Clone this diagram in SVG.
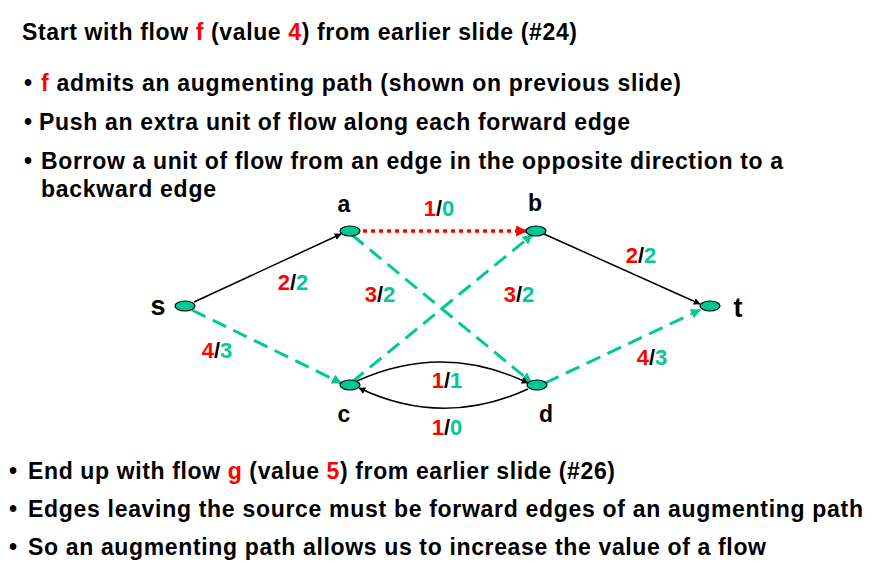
<svg xmlns="http://www.w3.org/2000/svg" width="880" height="563" viewBox="0 0 880 563">
<style>
text{font-family:"Liberation Sans",Arial,sans-serif;font-weight:bold;fill:#000}
.t{font-size:23px}
.lbl{font-size:22px;text-anchor:middle}
.nl{font-size:23px;text-anchor:middle}
.r{fill:#FF0000}
.g{fill:#00C896}
.node{fill:#00C896;stroke:#000;stroke-width:1.2}
.blk{stroke:#000;stroke-width:1.5;fill:none}
.grn{stroke:#00C896;stroke-width:3;fill:none;stroke-dasharray:15 8}
.red{stroke:#FF0000;stroke-width:3.5;fill:none;stroke-dasharray:4 4}
</style>
<defs>
<marker id="ab" viewBox="0 0 10 10" refX="9" refY="5" markerWidth="7" markerHeight="7" markerUnits="userSpaceOnUse" orient="auto"><path d="M0,0L10,5L0,10z" fill="#000"/></marker>
<marker id="ag" viewBox="0 0 10 10" refX="9" refY="5" markerWidth="10" markerHeight="10" markerUnits="userSpaceOnUse" orient="auto"><path d="M0,0L10,5L0,10z" fill="#00C896"/></marker>
<marker id="ar" viewBox="0 0 10 10" refX="9" refY="5" markerWidth="11" markerHeight="11" markerUnits="userSpaceOnUse" orient="auto"><path d="M0,0L10,5L0,10z" fill="#FF0000"/></marker>
</defs>
<g id="text">
<text class="t" x="22" y="40" textLength="555" lengthAdjust="spacing">Start with flow <tspan class="r">f</tspan> (value <tspan class="r">4</tspan>) from earlier slide (#24)</text>
<text class="t" x="24" y="91">•</text>
<text class="t" x="41" y="91" textLength="640" lengthAdjust="spacing"><tspan class="r">f</tspan> admits an augmenting path (shown on previous slide)</text>
<text class="t" x="24" y="130">•</text>
<text class="t" x="39" y="130" textLength="591" lengthAdjust="spacing">Push an extra unit of flow along each forward edge</text>
<text class="t" x="24" y="169">•</text>
<text class="t" x="41" y="169" textLength="742" lengthAdjust="spacing">Borrow a unit of flow from an edge in the opposite direction to a</text>
<text class="t" x="41" y="197" textLength="175" lengthAdjust="spacing">backward edge</text>
<text class="t" x="9" y="479">•</text>
<text class="t" x="28" y="479" textLength="587" lengthAdjust="spacing">End up with flow <tspan class="r">g</tspan> (value <tspan class="r">5</tspan>) from earlier slide (#26)</text>
<text class="t" x="9" y="517">•</text>
<text class="t" x="28" y="517" textLength="835" lengthAdjust="spacing">Edges leaving the source must be forward edges of an augmenting path</text>
<text class="t" x="9" y="555">•</text>
<text class="t" x="28" y="555" textLength="738" lengthAdjust="spacing">So an augmenting path allows us to increase the value of a flow</text>
</g>
<g id="connectors">
<line class="blk" x1="194" y1="302" x2="341" y2="234" marker-end="url(#ab)"/>
<line class="red" x1="363" y1="231" x2="526" y2="231" marker-end="url(#ar)"/>
<line class="blk" x1="544" y1="234" x2="700" y2="304" marker-end="url(#ab)"/>
<line class="grn" x1="192" y1="310" x2="341" y2="383" marker-end="url(#ag)"/>
<line class="grn" x1="352" y1="235" x2="531" y2="382" marker-end="url(#ag)"/>
<line class="grn" x1="352" y1="382" x2="532" y2="235" marker-end="url(#ag)"/>
<line class="grn" x1="545" y1="383" x2="700" y2="310" marker-end="url(#ag)"/>
<path class="blk" d="M357,381 Q443,342 528,383" marker-end="url(#ab)"/>
<path class="blk" d="M528,389 Q443,428 359,388" marker-end="url(#ab)"/>
</g>
<g id="labels">
<text class="lbl" x="439" y="216"><tspan class="r">1</tspan>/<tspan class="g">0</tspan></text>
<text class="lbl" x="293" y="290"><tspan class="r">2</tspan>/<tspan class="g">2</tspan></text>
<text class="lbl" x="380" y="302"><tspan class="r">3</tspan>/<tspan class="g">2</tspan></text>
<text class="lbl" x="519" y="302"><tspan class="r">3</tspan>/<tspan class="g">2</tspan></text>
<text class="lbl" x="641" y="263"><tspan class="r">2</tspan>/<tspan class="g">2</tspan></text>
<text class="lbl" x="217" y="358"><tspan class="r">4</tspan>/<tspan class="g">3</tspan></text>
<text class="lbl" x="447" y="388"><tspan class="r">1</tspan>/<tspan class="g">1</tspan></text>
<text class="lbl" x="447" y="435"><tspan class="r">1</tspan>/<tspan class="g">0</tspan></text>
<text class="lbl" x="652" y="365"><tspan class="r">4</tspan>/<tspan class="g">3</tspan></text>
</g>
<g id="node-s"><ellipse class="node" cx="185" cy="306" rx="10" ry="5"/><text class="nl" x="158" y="315" style="font-size:27px">s</text></g>
<g id="node-a"><ellipse class="node" cx="350" cy="231" rx="10" ry="5"/><text class="nl" x="344" y="212">a</text></g>
<g id="node-b"><ellipse class="node" cx="536" cy="231" rx="10" ry="5"/><text class="nl" x="535" y="211">b</text></g>
<g id="node-t"><ellipse class="node" cx="710" cy="306" rx="10" ry="5"/><text class="nl" x="738" y="317" style="font-size:27px">t</text></g>
<g id="node-c"><ellipse class="node" cx="350" cy="385" rx="10" ry="5"/><text class="nl" x="344" y="422">c</text></g>
<g id="node-d"><ellipse class="node" cx="537" cy="385" rx="10" ry="5"/><text class="nl" x="546" y="422">d</text></g>
</svg>
